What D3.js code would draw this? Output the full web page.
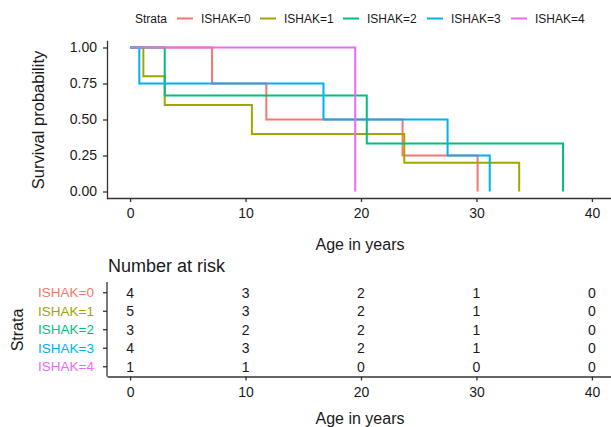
<!DOCTYPE html>
<html>
<head>
<meta charset="utf-8">
<script src="https://cdn.jsdelivr.net/npm/d3@7"></script>
<style>
  body { margin: 0; background: #fff; }
  svg text { font-family: "Liberation Sans", Arial, sans-serif; fill: #1a1a1a; }
</style>
</head>
<body>
<svg width="611" height="427"></svg>
<script>
// strata and colours
const strata = ['ISHAK=0', 'ISHAK=1', 'ISHAK=2', 'ISHAK=3', 'ISHAK=4'];
const colors = ['#F8766D', '#A3A500', '#00BF7D', '#00B0F6', '#E76BF3'];

// Kaplan-Meier steps (event times, survival after each)
const time0 = [0, 7.1, 11.8, 23.6, 30.1];
const surv0 = [1, 0.75, 0.5, 0.25, 0];
const time1 = [0, 1.15, 3.0, 10.55, 23.75, 33.7];
const surv1 = [1, 0.8, 0.6, 0.4, 0.2, 0];
const time2 = [0, 3.0, 20.5, 37.5];
const surv2 = [1, 0.667, 0.333, 0];
const time3 = [0, 0.8, 16.75, 27.5, 31.15];
const surv3 = [1, 0.75, 0.5, 0.25, 0];
const time4 = [0, 19.5];
const surv4 = [1, 0];

// number at risk
const riskTimes = [0, 10, 20, 30, 40];
const risk0 = [4, 3, 2, 1, 0];
const risk1 = [5, 3, 2, 1, 0];
const risk2 = [3, 2, 2, 1, 0];
const risk3 = [4, 3, 2, 1, 0];
const risk4 = [1, 1, 0, 0, 0];

const yTicks = [0, 0.25, 0.5, 0.75, 1];

const times = [time0, time1, time2, time3, time4];
const survs = [surv0, surv1, surv2, surv3, surv4];
const risks = [risk0, risk1, risk2, risk3, risk4];

const svg = d3.select('svg');

const x = d3.scaleLinear().domain([-2, 42]).range([107, 615]);
const y = d3.scaleLinear().domain([-0.05, 1.05]).range([198.7, 40.3]);

// legend
const legend = svg.append('g');
legend.append('text').attr('x', 135).attr('y', 22.5).style('font-size', '12px').text('Strata');
const keyX = [177, 260, 343, 427, 511];
strata.forEach((s, i) => {
  legend.append('line')
    .attr('x1', keyX[i]).attr('x2', keyX[i] + 16)
    .attr('y1', 18.5).attr('y2', 18.5)
    .attr('stroke', colors[i]).attr('stroke-width', 2);
  legend.append('text')
    .attr('x', keyX[i] + 24).attr('y', 22.5)
    .style('font-size', '12px').text(s);
});

// survival curves
const line = d3.line()
  .x((d) => x(d[0]))
  .y((d) => y(d[1]))
  .curve(d3.curveStepAfter);

svg.append('g')
  .selectAll('path')
  .data(strata)
  .join('path')
  .attr('d', (d, i) => line(times[i].map((t, j) => [t, survs[i][j]])))
  .attr('fill', 'none')
  .attr('stroke', (d, i) => colors[i])
  .attr('stroke-width', 2);

function styleAxis(g) {
  g.select('.domain').attr('stroke', '#333').attr('stroke-width', 1.3);
  g.selectAll('.tick line').attr('stroke', '#333').attr('stroke-width', 1.3);
  g.selectAll('.tick text').style('font-size', '14px');
}

// top axes
svg.append('g')
  .attr('transform', 'translate(0,198)')
  .call(d3.axisBottom(x).tickValues(riskTimes).tickSize(4).tickSizeOuter(0).tickPadding(6))
  .call(styleAxis);

svg.append('g')
  .attr('transform', 'translate(107,0)')
  .call(d3.axisLeft(y).tickValues(yTicks).tickFormat(d3.format('.2f')).tickSize(4).tickSizeOuter(0).tickPadding(6))
  .call(styleAxis);

svg.append('text')
  .attr('x', 360).attr('y', 250)
  .attr('text-anchor', 'middle')
  .style('font-size', '16px')
  .text('Age in years');

svg.append('text')
  .attr('transform', 'translate(44,120) rotate(-90)')
  .attr('text-anchor', 'middle')
  .style('font-size', '16.5px')
  .text('Survival probability');

// risk table
svg.append('text')
  .attr('x', 108).attr('y', 272)
  .style('font-size', '18px')
  .text('Number at risk');

const yr = d3.scaleBand().domain(strata).range([283.5, 376]);

const table = svg.append('g');
strata.forEach((s, i) => {
  table.selectAll(null)
    .data(riskTimes)
    .join('text')
    .attr('x', (t) => x(t))
    .attr('y', yr(s) + yr.bandwidth() / 2)
    .attr('dy', '0.36em')
    .attr('text-anchor', 'middle')
    .style('font-size', '14px')
    .text((t, j) => risks[i][j]);
});

svg.append('g')
  .attr('transform', 'translate(0,376.5)')
  .call(d3.axisBottom(x).tickValues(riskTimes).tickSize(4).tickSizeOuter(0).tickPadding(7))
  .call(styleAxis);

const yAxisR = svg.append('g')
  .attr('transform', 'translate(107,0)')
  .call(d3.axisLeft(yr).tickSize(4).tickSizeOuter(0).tickPadding(9))
  .call(styleAxis);
yAxisR.select('.domain').attr('d', 'M0,282V376.5');
yAxisR.selectAll('.tick text')
  .style('font-size', '13.5px')
  .style('fill', (d, i) => colors[i]);

svg.append('text')
  .attr('transform', 'translate(23,330) rotate(-90)')
  .attr('text-anchor', 'middle')
  .style('font-size', '16px')
  .text('Strata');

svg.append('text')
  .attr('x', 360).attr('y', 424)
  .attr('text-anchor', 'middle')
  .style('font-size', '16px')
  .text('Age in years');
</script>
</body>
</html>
